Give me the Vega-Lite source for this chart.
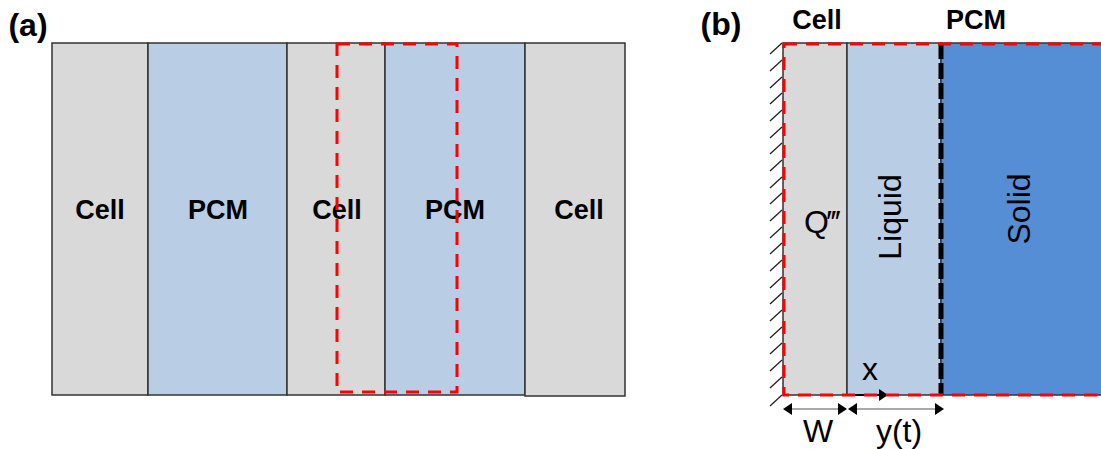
{
  "$schema": "https://vega.github.io/schema/vega-lite/v6.json",
  "width": 1101,
  "height": 449,
  "autosize": "none",
  "padding": 0,
  "background": "white",
  "config": {"view": {"stroke": null}},
  "datasets": {
    "blocks": [
      {"x": 52, "x2": 148, "y": 43, "y2": 395, "part": "cell"},
      {"x": 148, "x2": 287, "y": 43, "y2": 395, "part": "pcm"},
      {"x": 287, "x2": 385, "y": 43, "y2": 395, "part": "cell"},
      {"x": 385, "x2": 525, "y": 43, "y2": 395, "part": "pcm"},
      {"x": 525, "x2": 625, "y": 43, "y2": 396, "part": "cell"},
      {"x": 783, "x2": 847, "y": 43, "y2": 395, "part": "cell"},
      {"x": 847, "x2": 941, "y": 43, "y2": 395, "part": "liquid"},
      {"x": 941, "x2": 1106, "y": 43, "y2": 395, "part": "solid"}
    ],
    "boldLabels": [
      {"x": 100, "y": 219, "label": "Cell"},
      {"x": 218, "y": 219, "label": "PCM"},
      {"x": 337, "y": 219, "label": "Cell"},
      {"x": 455, "y": 219, "label": "PCM"},
      {"x": 579, "y": 219, "label": "Cell"},
      {"x": 817, "y": 29, "label": "Cell"},
      {"x": 976, "y": 29, "label": "PCM"}
    ],
    "panelLabels": [
      {"x": 28, "y": 36, "label": "(a)"},
      {"x": 721, "y": 35, "label": "(b)"}
    ],
    "plainLabels": [
      {"x": 822, "y": 233, "label": "Q‴"},
      {"x": 870, "y": 380, "label": "x"},
      {"x": 818, "y": 442, "label": "W"},
      {"x": 899, "y": 442, "label": "y(t)"}
    ],
    "rotLabels": [
      {"x": 891, "y": 217, "label": "Liquid"},
      {"x": 1020, "y": 209, "label": "Solid"}
    ],
    "hatch": [
      {"x": 782, "y": 43, "x2": 770, "y2": 54},
      {"x": 782, "y": 60, "x2": 770, "y2": 71},
      {"x": 782, "y": 77, "x2": 770, "y2": 88},
      {"x": 782, "y": 93, "x2": 770, "y2": 104},
      {"x": 782, "y": 110, "x2": 770, "y2": 121},
      {"x": 782, "y": 127, "x2": 770, "y2": 138},
      {"x": 782, "y": 143, "x2": 770, "y2": 154},
      {"x": 782, "y": 160, "x2": 770, "y2": 171},
      {"x": 782, "y": 177, "x2": 770, "y2": 188},
      {"x": 782, "y": 193, "x2": 770, "y2": 204},
      {"x": 782, "y": 210, "x2": 770, "y2": 221},
      {"x": 782, "y": 227, "x2": 770, "y2": 238},
      {"x": 782, "y": 243, "x2": 770, "y2": 254},
      {"x": 782, "y": 260, "x2": 770, "y2": 271},
      {"x": 782, "y": 277, "x2": 770, "y2": 288},
      {"x": 782, "y": 293, "x2": 770, "y2": 304},
      {"x": 782, "y": 310, "x2": 770, "y2": 321},
      {"x": 782, "y": 327, "x2": 770, "y2": 338},
      {"x": 782, "y": 343, "x2": 770, "y2": 354},
      {"x": 782, "y": 360, "x2": 770, "y2": 371},
      {"x": 782, "y": 377, "x2": 770, "y2": 388},
      {"x": 782, "y": 395, "x2": 770, "y2": 406}
    ],
    "dims": [
      {"x": 786, "x2": 844, "y": 409},
      {"x": 850, "x2": 941, "y": 409}
    ],
    "heads": [
      {"x": 783, "y": 409, "dir": "left"},
      {"x": 847, "y": 409, "dir": "right"},
      {"x": 848, "y": 409, "dir": "left"},
      {"x": 944, "y": 409, "dir": "right"},
      {"x": 888, "y": 395, "dir": "right"}
    ],
    "xarrow": [
      {"x": 847, "x2": 884, "y": 395}
    ],
    "interface": [
      {"x": 941, "y": 43, "y2": 395}
    ],
    "redBoxes": [
      {"x": 337, "x2": 457, "y": 44, "y2": 392},
      {"x": 784, "x2": 1106, "y": 44, "y2": 395}
    ]
  },
  "layer": [
    {
      "data": {"name": "blocks"},
      "mark": {"type": "rect", "stroke": "#333333", "strokeWidth": 1.5},
      "encoding": {
        "x": {"field": "x", "type": "quantitative", "scale": {"domain": [0, 1101], "nice": false, "zero": false}, "axis": null},
        "x2": {"field": "x2"},
        "y": {"field": "y", "type": "quantitative", "scale": {"domain": [0, 449], "nice": false, "zero": false, "reverse": true}, "axis": null},
        "y2": {"field": "y2"},
        "fill": {"field": "part", "type": "nominal", "scale": {"domain": ["cell", "pcm", "liquid", "solid"], "range": ["#D9D9D9", "#B9CDE5", "#B9CDE5", "#558ED5"]}, "legend": null}
      }
    },
    {
      "data": {"name": "hatch"},
      "mark": {"type": "rule", "stroke": "#222222", "strokeWidth": 1.3},
      "encoding": {
        "x": {"field": "x", "type": "quantitative"},
        "x2": {"field": "x2"},
        "y": {"field": "y", "type": "quantitative"},
        "y2": {"field": "y2"}
      }
    },
    {
      "data": {"name": "dims"},
      "mark": {"type": "rule", "stroke": "#555555", "strokeWidth": 1.2},
      "encoding": {
        "x": {"field": "x", "type": "quantitative"},
        "x2": {"field": "x2"},
        "y": {"field": "y", "type": "quantitative"}
      }
    },
    {
      "data": {"name": "xarrow"},
      "mark": {"type": "rule", "stroke": "#000000", "strokeWidth": 2},
      "encoding": {
        "x": {"field": "x", "type": "quantitative"},
        "x2": {"field": "x2"},
        "y": {"field": "y", "type": "quantitative"}
      }
    },
    {
      "data": {"name": "heads"},
      "mark": {"type": "point", "filled": true, "color": "#000000", "opacity": 1, "size": 400, "strokeWidth": 0},
      "encoding": {
        "x": {"field": "x", "type": "quantitative"},
        "y": {"field": "y", "type": "quantitative"},
        "shape": {"field": "dir", "type": "nominal", "scale": {"domain": ["left", "right"], "range": ["M0,0L0.9,-0.6L0.9,0.6Z", "M0,0L-0.9,-0.6L-0.9,0.6Z"]}, "legend": null}
      }
    },
    {
      "data": {"name": "interface"},
      "mark": {"type": "rule", "stroke": "#000000", "strokeWidth": 5, "strokeDash": [16, 4]},
      "encoding": {
        "x": {"field": "x", "type": "quantitative"},
        "y": {"field": "y", "type": "quantitative"},
        "y2": {"field": "y2"}
      }
    },
    {
      "data": {"name": "boldLabels"},
      "mark": {"type": "text", "font": "Liberation Sans", "fontWeight": "bold", "fontSize": 27, "align": "center", "baseline": "alphabetic", "color": "#000000"},
      "encoding": {
        "x": {"field": "x", "type": "quantitative"},
        "y": {"field": "y", "type": "quantitative"},
        "text": {"field": "label"}
      }
    },
    {
      "data": {"name": "panelLabels"},
      "mark": {"type": "text", "font": "Liberation Sans", "fontWeight": "bold", "fontSize": 32, "align": "center", "baseline": "alphabetic", "color": "#000000"},
      "encoding": {
        "x": {"field": "x", "type": "quantitative"},
        "y": {"field": "y", "type": "quantitative"},
        "text": {"field": "label"}
      }
    },
    {
      "data": {"name": "plainLabels"},
      "mark": {"type": "text", "font": "Liberation Sans", "fontSize": 32, "align": "center", "baseline": "alphabetic", "color": "#000000"},
      "encoding": {
        "x": {"field": "x", "type": "quantitative"},
        "y": {"field": "y", "type": "quantitative"},
        "text": {"field": "label"}
      }
    },
    {
      "data": {"name": "rotLabels"},
      "mark": {"type": "text", "font": "Liberation Sans", "fontSize": 32, "align": "center", "baseline": "middle", "angle": 270, "color": "#000000"},
      "encoding": {
        "x": {"field": "x", "type": "quantitative"},
        "y": {"field": "y", "type": "quantitative"},
        "text": {"field": "label"}
      }
    },
    {
      "data": {"name": "redBoxes"},
      "mark": {"type": "rect", "fill": null, "fillOpacity": 0, "stroke": "#FF0000", "strokeWidth": 3, "strokeDash": [13, 9]},
      "encoding": {
        "x": {"field": "x", "type": "quantitative"},
        "x2": {"field": "x2"},
        "y": {"field": "y", "type": "quantitative"},
        "y2": {"field": "y2"}
      }
    }
  ]
}
